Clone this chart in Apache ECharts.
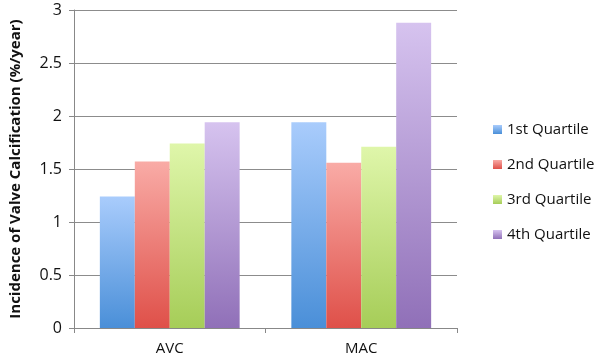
<!DOCTYPE html>
<html>
<head>
<meta charset="utf-8">
<script src="https://cdn.jsdelivr.net/npm/echarts@6/dist/echarts.min.js"></script>
<style>
  html, body { margin: 0; padding: 0; background: #fff; }
  #chart { width: 600px; height: 360px; }
</style>
</head>
<body>
<div id="chart"></div>
<script>
const categories = ['AVC', 'MAC']
const seriesNames = ['1st Quartile', '2nd Quartile', '3rd Quartile', '4th Quartile']
const q1 = [1.24, 1.94]
const q2 = [1.57, 1.56]
const q3 = [1.74, 1.71]
const q4 = [1.94, 2.88]
const yTicks = [0, 0.5, 1, 1.5, 2, 2.5, 3]

// top / bottom colours of each gradient
const colors = [
  ['#a9ccfc', '#4a8fd8'],
  ['#f9aba6', '#df5049'],
  ['#dff6aa', '#a6cd58'],
  ['#d6c3ef', '#9070b8']
]

const chart = echarts.init(document.getElementById('chart'))

const grad = (c) => new echarts.graphic.LinearGradient(0, 0, 0, 1, [
  { offset: 0, color: c[0] },
  { offset: 1, color: c[1] }
])

const values = [q1, q2, q3, q4]

const option = {
  animation: false,
  textStyle: { fontFamily: 'Open Sans' },
  grid: { left: 68, right: 143, top: 10, bottom: 32 },
  legend: {
    orient: 'vertical',
    left: 488,
    top: 117,
    itemWidth: 9,
    itemHeight: 9,
    itemGap: 20,
    icon: 'rect',
    textStyle: { fontSize: 15, color: '#111', fontFamily: 'Open Sans' },
    data: seriesNames
  },
  xAxis: {
    type: 'category',
    data: categories,
    axisLine: { lineStyle: { color: '#888' } },
    axisTick: { show: true, length: 5, lineStyle: { color: '#888' } },
    axisLabel: { fontSize: 15, color: '#111', margin: 13 }
  },
  yAxis: {
    type: 'value',
    min: 0,
    max: yTicks[yTicks.length - 1],
    interval: 0.5,
    name: 'Incidence of Valve Calcification (%/year)',
    nameLocation: 'middle',
    nameGap: 51,
    nameTextStyle: { fontSize: 15, fontWeight: 'bold', color: '#111' },
    axisLine: { show: true, lineStyle: { color: '#888' } },
    axisTick: { show: true, length: 5, lineStyle: { color: '#888' } },
    axisLabel: { fontSize: 16, color: '#111', margin: 12 },
    splitLine: { lineStyle: { color: '#8c8c8c', width: 1 } }
  },
  series: seriesNames.map((name, i) => ({
    name: name,
    type: 'bar',
    data: values[i],
    barGap: '0%',
    barCategoryGap: '27%',
    itemStyle: { color: grad(colors[i]) }
  }))
}

chart.setOption(option)
</script>
</body>
</html>
